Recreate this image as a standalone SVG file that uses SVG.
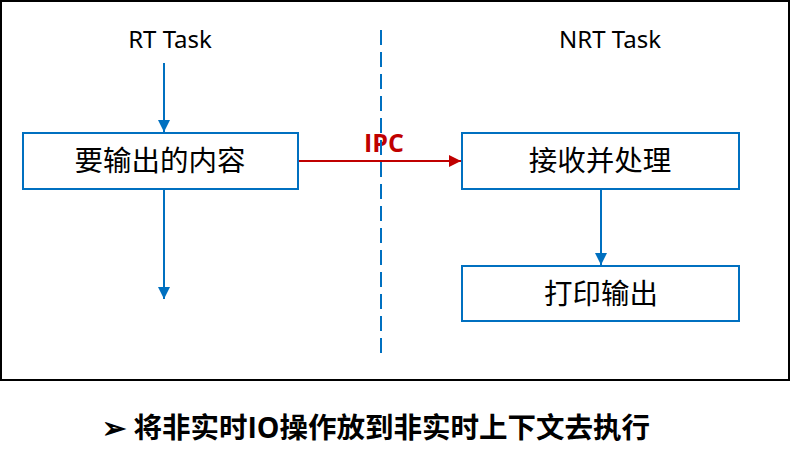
<svg xmlns="http://www.w3.org/2000/svg" width="792" height="462" viewBox="0 0 792 462">
<style>
.box{fill:#fff;stroke:#0070C0;stroke-width:2}
.t{font-family:"Noto Sans","Noto Sans CJK SC",sans-serif;fill:#000}
.b{font-family:"Open Sans","Noto Sans CJK SC",sans-serif;font-weight:bold}
.c{stroke:#0070C0;stroke-width:2;fill:none}
</style>
<defs>
<marker id="ab" viewBox="0 0 10 10" refX="10" refY="5" markerWidth="6" markerHeight="6" orient="auto" markerUnits="strokeWidth"><path d="M0,0L10,5L0,10z" fill="#0070C0"/></marker>
<marker id="ar" viewBox="0 0 10 10" refX="10" refY="5" markerWidth="6" markerHeight="6" orient="auto" markerUnits="strokeWidth"><path d="M0,0L10,5L0,10z" fill="#C00000"/></marker>
</defs>
<rect x="1" y="1" width="788" height="379" fill="#fff" stroke="#000" stroke-width="2"/>
<g id="labels">
<text class="t" x="170" y="48" font-size="24" text-anchor="middle">RT Task</text>
<text class="t" x="610" y="48" font-size="24" text-anchor="middle">NRT Task</text>
<text class="b" x="384" y="152" font-size="25" fill="#C00000" text-anchor="middle">IPC</text>
</g>
<g id="connectors">
<line x1="381" y1="30" x2="381" y2="355" stroke="#0070C0" stroke-width="2" stroke-dasharray="15,7"/>
<line class="c" x1="164" y1="63" x2="164" y2="132" marker-end="url(#ab)"/>
<line class="c" x1="164" y1="189" x2="164" y2="299" marker-end="url(#ab)"/>
<line class="c" x1="601" y1="189" x2="601" y2="265" marker-end="url(#ab)"/>
<line x1="298" y1="161" x2="461" y2="161" stroke="#C00000" stroke-width="2" marker-end="url(#ar)"/>
</g>
<g id="n1"><rect class="box" x="23" y="133" width="275" height="56"/><text class="t" x="160" y="171" font-size="28.5" text-anchor="middle">要输出的内容</text></g>
<g id="n2"><rect class="box" x="462" y="133" width="277" height="56"/><text class="t" x="600" y="171" font-size="28.5" text-anchor="middle">接收并处理</text></g>
<g id="n3"><rect class="box" x="462" y="266" width="277" height="55"/><text class="t" x="601" y="304" font-size="28.5" text-anchor="middle">打印输出</text></g>
<g id="caption"><text class="b" x="102" y="438" font-size="28.5" fill="#000">➢ 将非实时IO操作放到非实时上下文去执行</text></g>
</svg>
